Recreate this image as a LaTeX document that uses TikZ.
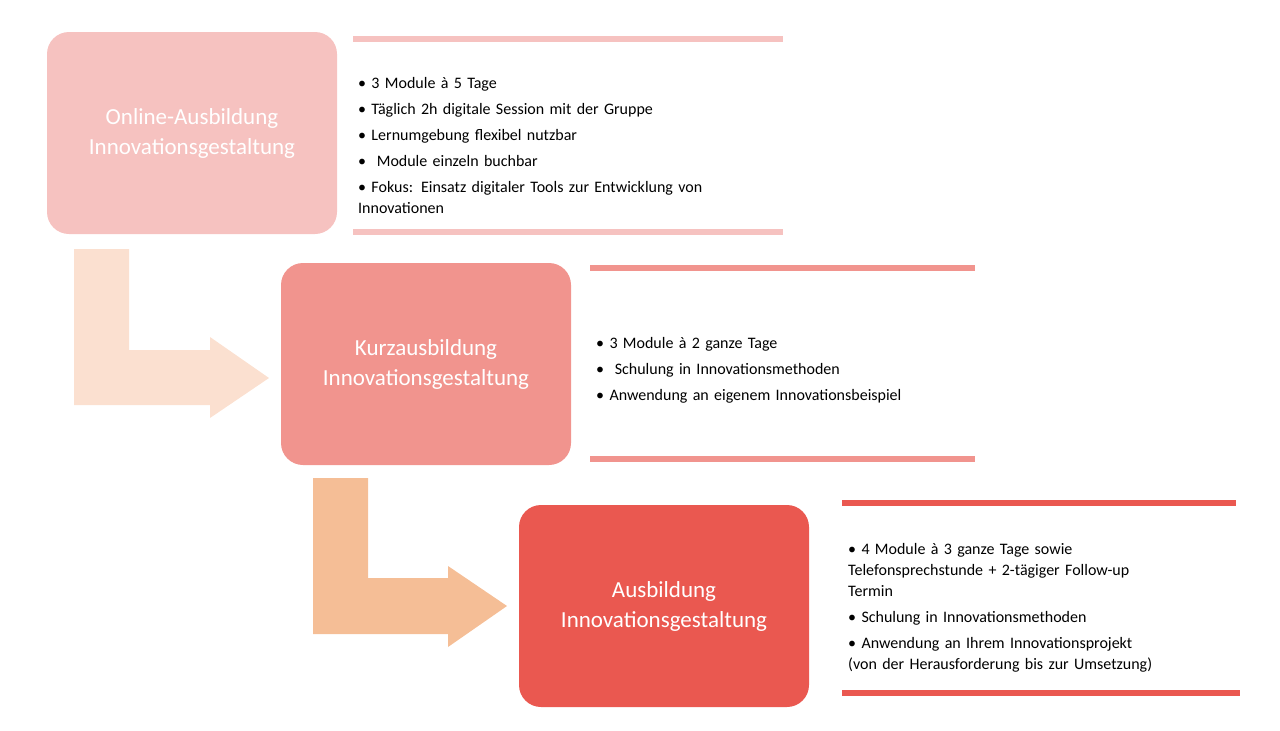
\documentclass[tikz,border=0pt]{standalone}
\usepackage{fontspec}
\setmainfont{Carlito}
\usepackage{xcolor}
\definecolor{roseA}{RGB}{246,194,192}
\definecolor{roseB}{RGB}{241,148,142}
\definecolor{roseC}{RGB}{234,88,80}
\definecolor{peachA}{RGB}{251,224,208}
\definecolor{peachB}{RGB}{245,190,150}
\usetikzlibrary{positioning}
\newcommand{\bul}[1]{\par\hangindent=9pt\hangafter=1\noindent\textbullet\ #1\par\vspace{5pt}}
\tikzset{
  stage/.style={rounded corners=22pt, minimum width=290pt, minimum height=202pt,
    text=white, align=center, font=\fontsize{23}{30}\selectfont, inner sep=0pt},
  info/.style={anchor=north west, text width=440pt, align=left, inner sep=0pt,
    font=\fontsize{16}{21}\selectfont},
  bar/.style={line width=6pt}
}
\begin{document}
\begin{tikzpicture}[x=1pt,y=-1pt]
    \useasboundingbox (0,0) rectangle (1280,731);

    % Bent arrows
    \fill[peachA] (74,249) -- (129,249) -- (129,350) -- (210,350) -- (210,337)
        -- (269,378) -- (210,418) -- (210,405) -- (74,405) -- cycle;
    \fill[peachB] (313,478) -- (368,478) -- (368,578) -- (448,578) -- (448,566)
        -- (507,606) -- (448,647) -- (448,634) -- (313,634) -- cycle;

    % Stages
    \node[stage, fill=roseA] (online) at (192,133) {Online-Ausbildung\\Innovationsgestaltung};
    \node[stage, fill=roseB] (kurz) at (426,364) {Kurzausbildung\\Innovationsgestaltung};
    \node[stage, fill=roseC] (voll) at (664,606) {Ausbildung\\Innovationsgestaltung};

    % Separator bars
    \draw[bar, roseA] (353,39) -- (783,39);
    \draw[bar, roseA] (353,232) -- (783,232);
    \draw[bar, roseB] (590,268) -- (975,268);
    \draw[bar, roseB] (590,459) -- (975,459);
    \draw[bar, roseC] (842,503) -- (1236,503);
    \draw[bar, roseC] (842,693) -- (1240,693);

    % Details
    \node[info] (online-info) at (358,67) {%
      \bul{3 Module à 5 Tage}
      \bul{Täglich 2h digitale Session mit der Gruppe}
      \bul{Lernumgebung flexibel nutzbar}
      \bul{\ Module einzeln buchbar}
      \bul{Fokus: Einsatz digitaler Tools zur Entwicklung von\\Innovationen}};
    \node[info] (kurz-info) at (596,327) {%
      \bul{3 Module à 2 ganze Tage}
      \bul{\ Schulung in Innovationsmethoden}
      \bul{Anwendung an eigenem Innovationsbeispiel}};
    \node[info] (voll-info) at (848,533) {%
      \bul{4 Module à 3 ganze Tage sowie\\Telefonsprechstunde + 2-tägiger Follow-up\\Termin}
      \bul{Schulung in Innovationsmethoden}
      \bul{Anwendung an Ihrem Innovationsprojekt\\(von der Herausforderung bis zur Umsetzung)}};
\end{tikzpicture}
\end{document}
